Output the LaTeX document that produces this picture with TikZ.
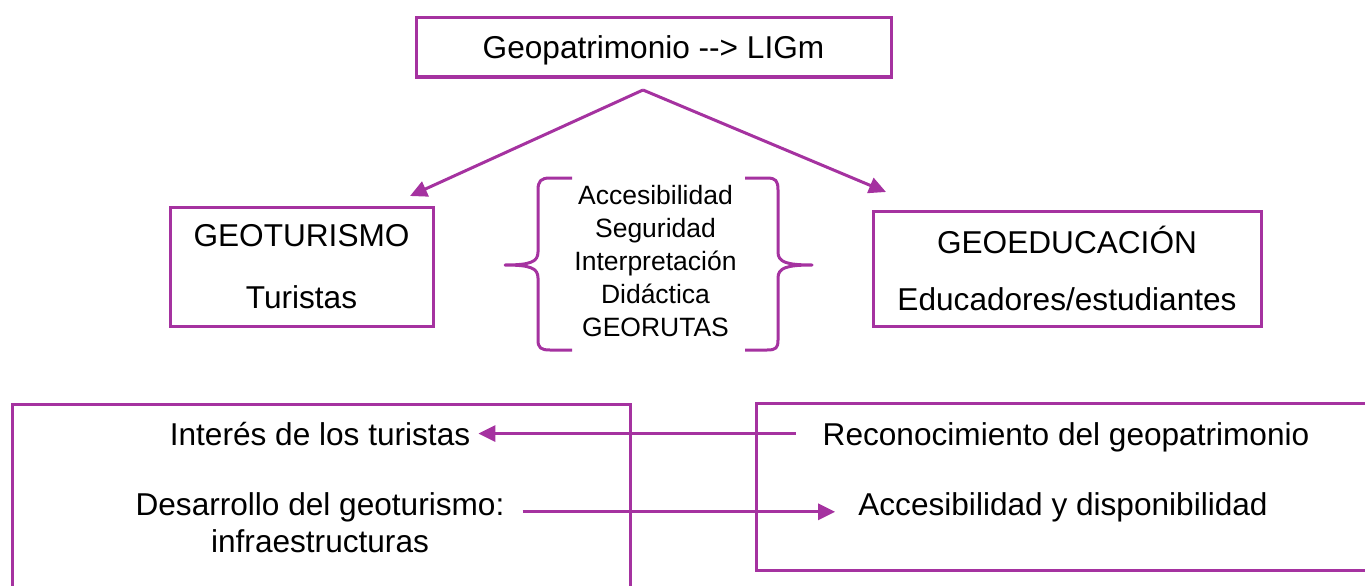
\documentclass[tikz,border=0pt]{standalone}
\usepackage{fontspec}
\setmainfont{Liberation Sans}
\usetikzlibrary{arrows.meta, positioning}
\definecolor{lila}{RGB}{165,50,160}
\tikzset{
    box/.style = {rectangle, draw=lila, line width=3pt, inner sep=0pt, font=\fontsize{31.6}{62}\selectfont},
    panel/.style = {rectangle, draw=lila, line width=3pt, anchor=north west, inner sep=0pt},
    txt/.style = {inner sep=0pt, anchor=base, font=\fontsize{31.6}{38}\selectfont},
    small/.style = {inner sep=0pt, align=center, font=\fontsize{26.5}{33}\selectfont},
    arrow/.style = {draw=lila, line width=3pt, -{Triangle[length=17pt,width=16pt]}},
    brace/.style = {draw=lila, line width=3pt, line join=round}
}
\begin{document}
\begin{tikzpicture}[x=1pt, y=-1pt]
    \useasboundingbox (0,0) rectangle (1365,586);

    % upper part
    \node[box, minimum width=475pt, minimum height=59pt, text height=23pt, text depth=0pt] (geo) at (653.5,47.5) {Geopatrimonio -{}-> LIGm};
    \node[box, align=center, minimum width=263pt, minimum height=119pt] (turismo) at (301.5,266.5) {GEOTURISMO\\Turistas};
    \node[box, align=center, minimum width=388pt, minimum height=115pt, font=\fontsize{31.6}{57}\selectfont] (educa) at (1067,268.5) {GEOEDUCACIÓN\\Educadores/estudiantes};
    \node[small] (claves) at (655.5,261.4) {Accesibilidad\\Seguridad\\Interpretación\\Didáctica\\GEORUTAS};

    \coordinate (fork) at (643,90);
    \coordinate (turTip) at (410,196);
    \coordinate (eduTip) at (886,192);
    \draw[arrow] (fork) -- (turTip);
    \draw[arrow] (fork) -- (eduTip);

    % braces
    \draw[brace] (572,178) -- (550,178) .. controls (541,178) and (538,181) .. (538,190) -- (538,252)
        .. controls (538,262) and (530,265) .. (505,265) .. controls (530,265) and (538,268) .. (538,278)
        -- (538,340) .. controls (538,348) and (541,350) .. (550,350) -- (572,350);
    \draw[brace] (745,178) -- (767,178) .. controls (776,178) and (778,181) .. (778,190) -- (778,252)
        .. controls (778,262) and (786,265) .. (812,265) .. controls (786,265) and (778,268) .. (778,278)
        -- (778,340) .. controls (778,348) and (776,350) .. (767,350) -- (745,350);

    % lower part
    \node[panel, minimum width=618pt, minimum height=195pt] (izq) at (11,403) {};
    \node[panel, minimum width=650pt, minimum height=167pt] (der) at (755,402) {};

    \node[txt] (interes) at (320,445) {Interés de los turistas};
    \node[txt] (desa) at (320,515) {Desarrollo del geoturismo:};
    \node[txt] (infra) at (320,552) {infraestructuras};
    \node[txt] (reco) at (1066,445) {Reconocimiento del geopatrimonio};
    \node[txt] (acce) at (1063,515) {Accesibilidad y disponibilidad};

    \draw[arrow, shorten <=27pt, shorten >=8pt] (reco.west |- interes.east) -- (interes.east);
    \draw[arrow, shorten <=18pt, shorten >=23pt] ([yshift=-5pt]desa.east) -- ([yshift=-5pt]desa.east -| acce.west);
\end{tikzpicture}
\end{document}
